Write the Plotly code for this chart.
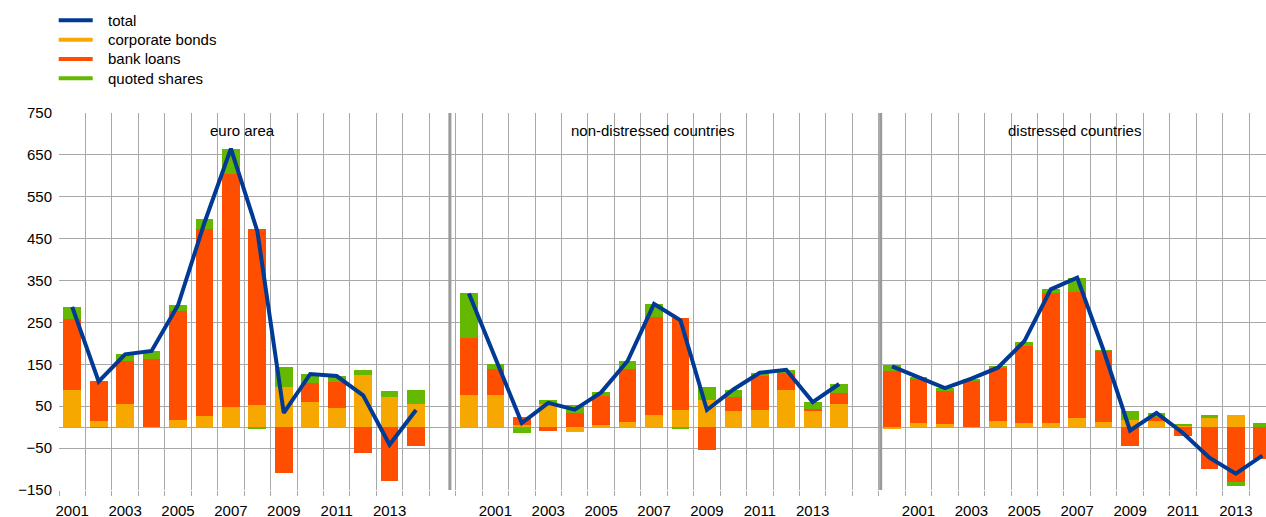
import plotly.graph_objects as go

# ── Data (EUR billions) ──────────────────────────────────────────────────
EA_YEARS = list(range(2001, 2015))
EA_BONDS = [89, 15, 55, 1, 16, 27, 49, 53, 97, 59, 45, 124, 73, 55]
EA_LOANS = [169, 96, 103, 162, 262, 445, 556, 419, -110, 46, 64, -61, -128, -46]
EA_SHARES = [29, -2, 16, 19, 13, 24, 60, -4, 47, 22, 13, 12, 13, 33]
EA_TOTAL = [287, 109, 174, 182, 291, 488, 665, 468, 34, 127, 122, 76, -42, 41]

ND_YEARS = list(range(2000, 2015))
ND_BONDS = [77, 77, 5, 55, -12, 5, 13, 29, 41, 65, 39, 41, 89, 39, 55]
ND_LOANS = [136, 61, 20, -8, 33, 70, 127, 233, 219, -54, 34, 80, 40, 4, 26]
ND_SHARES = [107, 12, -15, 11, 21, 8, 18, 31, -5, 30, 16, 8, 8, 17, 23]
ND_TOTAL = [319, 162, 10, 58, 42, 83, 158, 294, 255, 41, 90, 130, 137, 60, 103]

DI_YEARS = list(range(2000, 2015))
DI_BONDS = [-4, 9, 8, 0, 15, 9, 9, 21, 12, 17, 15, 2, 23, 29, 0]
DI_LOANS = [133, 105, 79, 110, 127, 185, 312, 302, 171, -46, 10, -21, -101, -130, -76]
DI_SHARES = [16, 6, 6, 6, 2, 10, 8, 32, 1, 22, 8, 5, 5, -11, 9]
DI_TOTAL = [145, 120, 93, 116, 142, 205, 329, 357, 183, -8, 34, -14, -73, -111, -68]

Y_TICKS = [-150, -50, 50, 150, 250, 350, 450, 550, 650, 750]

# (title, years, bonds, loans, shares, total, first category slot)
PANELS = [
    ("euro area", EA_YEARS, EA_BONDS, EA_LOANS, EA_SHARES, EA_TOTAL, 0),
    ("non-distressed countries", ND_YEARS, ND_BONDS, ND_LOANS, ND_SHARES, ND_TOTAL, 15),
    ("distressed countries", DI_YEARS, DI_BONDS, DI_LOANS, DI_SHARES, DI_TOTAL, 31),
]

C_TOTAL = "#003a94"
C_BONDS = "#f7a800"
C_LOANS = "#ff4e00"
C_SHARES = "#64b800"
GRID = "#a8a8a8"
FONT = "Liberation Sans, Arial, sans-serif"

W, H = 1266, 517
L, T, B = 59.3, 112.7, 27
X_RANGE = [-0.5, 45.14]

# ── Assemble series on one shared category axis ─────────────────────────
xs, bonds, loans, shares = [], [], [], []
line_x, line_y = [], []
label_pos, label_txt = [], []
for title, years, b, l, s, t, start in PANELS:
    pos = [start + i for i in range(len(years))]
    xs += pos
    bonds += b
    loans += l
    shares += s
    line_x += pos + [pos[-1] + 0.5]
    line_y += t + [None]
    for p, yr in zip(pos, years):
        if yr % 2 == 1:
            label_pos.append(p)
            label_txt.append(str(yr))

fig = go.Figure()
for name, vals, color in [("corporate bonds", bonds, C_BONDS),
                          ("bank loans", loans, C_LOANS),
                          ("quoted shares", shares, C_SHARES)]:
    fig.add_trace(go.Bar(
        x=xs, y=vals, name=name, width=0.67,
        marker=dict(color=color, line=dict(width=0)),
        showlegend=False,
    ))

fig.add_trace(go.Scatter(
    x=line_x, y=line_y, mode="lines", name="total",
    line=dict(color=C_TOTAL, width=4),
    connectgaps=False, showlegend=False,
))

plot_w = W - L
plot_h = H - T - B


def px_x(p):
    return (p - L) / plot_w


def px_y(p):
    return (H - B - p) / plot_h


# ── Panel separators ─────────────────────────────────────────────────────
for sep in (14.28, 30.57):
    fig.add_shape(type="line", xref="x", yref="y", x0=sep, x1=sep,
                  y0=Y_TICKS[0], y1=Y_TICKS[-1],
                  line=dict(color="#9a9a9a", width=3), layer="above")

# ── Panel titles ─────────────────────────────────────────────────────────
for title, x in [("euro area", 6.45), ("non-distressed countries", 21.95),
                 ("distressed countries", 37.88)]:
    fig.add_annotation(x=x, y=708, xref="x", yref="y", text=title,
                       showarrow=False, xanchor="center", yanchor="middle",
                       font=dict(size=15, color="#000000", family=FONT))

# ── Legend (drawn by hand: line keys for all series) ─────────────────────
legend_rows = [("total", C_TOTAL), ("corporate bonds", C_BONDS),
               ("bank loans", C_LOANS), ("quoted shares", C_SHARES)]
for i, (name, color) in enumerate(legend_rows):
    yy = px_y(20 + i * 19.3)
    fig.add_shape(type="line", xref="paper", yref="paper",
                  x0=px_x(59), x1=px_x(93), y0=yy, y1=yy,
                  line=dict(color=color, width=4))
    fig.add_annotation(x=px_x(106), y=yy, xref="paper", yref="paper",
                       text=name, showarrow=False, xanchor="left",
                       yanchor="middle",
                       font=dict(size=15, color="#000000", family=FONT))

fig.update_layout(
    width=W, height=H,
    margin=dict(l=L, r=0, t=T, b=B, pad=0, autoexpand=False),
    paper_bgcolor="white", plot_bgcolor="white",
    barmode="relative", bargap=0,
    font=dict(family=FONT, size=15, color="#000000"),
    showlegend=False,
)
fig.update_xaxes(
    range=X_RANGE, automargin=False,
    tickvals=label_pos, ticktext=label_txt,
    ticks="", showgrid=False, zeroline=False, showline=False,
    ticklabelstandoff=10,
    tickfont=dict(size=15, color="#000000"),
    minor=dict(tickvals=[k - 0.5 for k in range(0, 47)],
               ticks="outside", ticklen=5, tickcolor=GRID,
               showgrid=True, gridcolor=GRID, gridwidth=1),
)
fig.update_yaxes(
    range=[Y_TICKS[0], Y_TICKS[-1]], automargin=False,
    tickvals=Y_TICKS, ticks="", showgrid=True, gridcolor=GRID, gridwidth=1,
    zeroline=True, zerolinecolor=GRID, zerolinewidth=1, showline=False,
    ticklabelstandoff=6,
    tickfont=dict(size=15, color="#000000"),
)

fig.write_html(
    "out.html",
    config={"displayModeBar": False},
    post_script="document.body.style.margin='0';document.body.style.overflow='hidden';",
)
